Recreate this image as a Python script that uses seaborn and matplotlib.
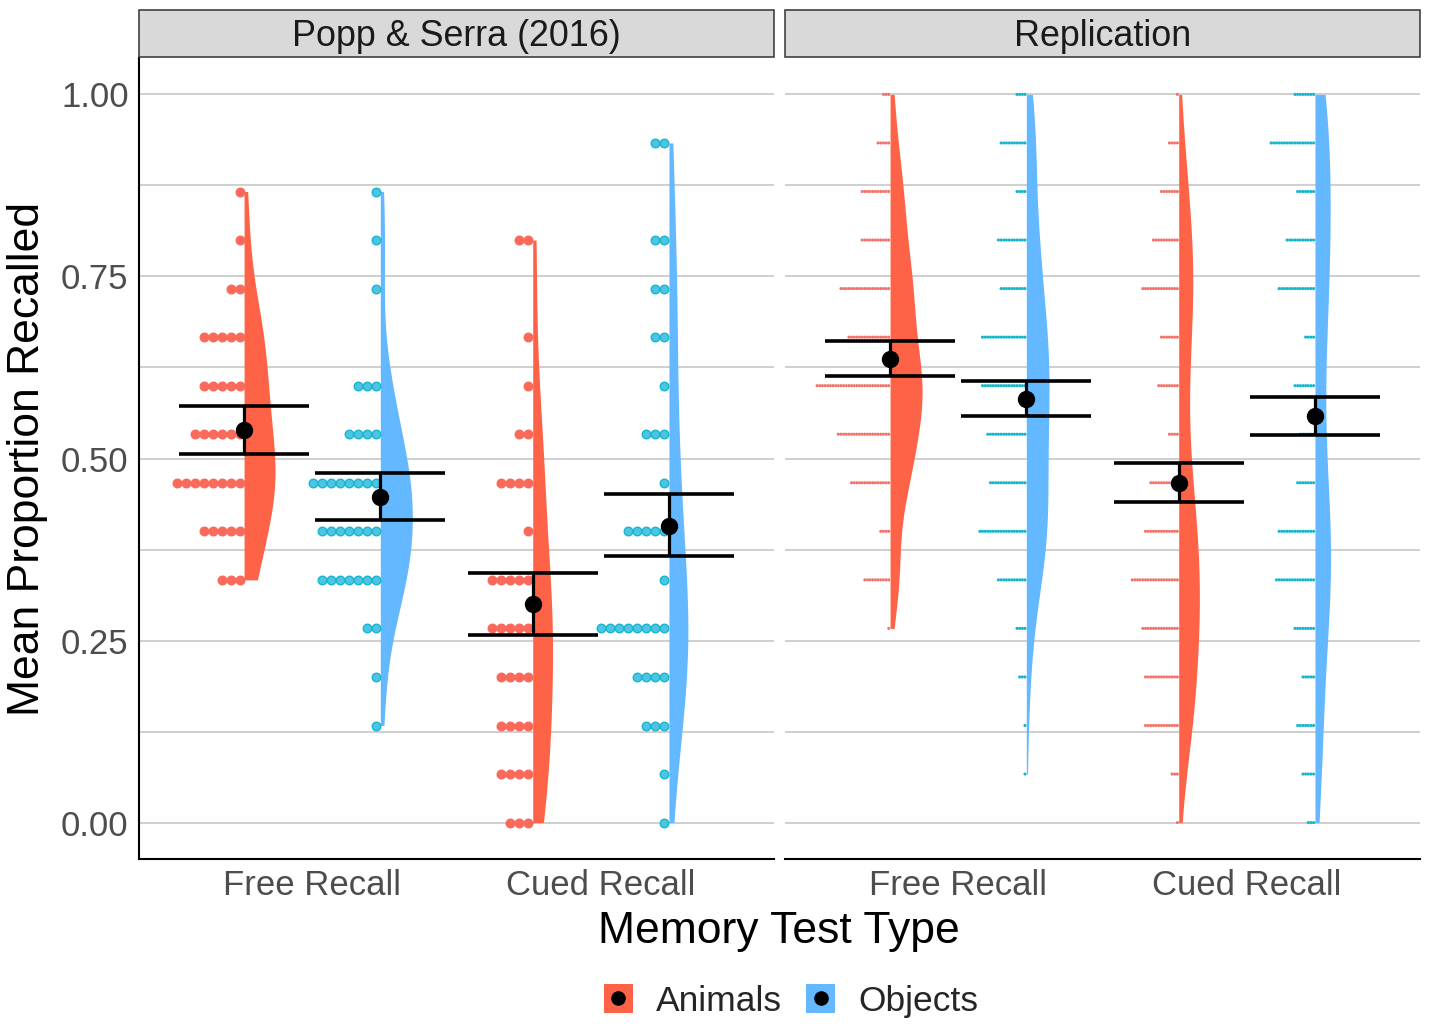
import numpy as np
import pandas as pd
import matplotlib
matplotlib.use("Agg")
import matplotlib.pyplot as plt
import seaborn as sns
from matplotlib.patches import Patch, Rectangle
from matplotlib.lines import Line2D

# ---------------- data ----------------
panels = ["Popp & Serra (2016)", "Replication"]
tests = ["Free Recall", "Cued Recall"]
stimuli = ["Animals", "Objects"]
levels = [k / 15 for k in range(16)]          # proportion of 15 items recalled

# number of participants at each level k/15 (k = 0..15)
popp_free_animals = [0, 0, 0, 0, 0, 3, 5, 8, 6, 5, 5, 2, 1, 1, 0, 0]
popp_free_objects = [0, 0, 1, 1, 2, 7, 7, 8, 4, 3, 0, 1, 1, 1, 0, 0]
popp_cued_animals = [3, 4, 4, 4, 5, 5, 1, 4, 2, 1, 1, 0, 2, 0, 0, 0]
popp_cued_objects = [1, 1, 3, 4, 8, 1, 5, 1, 3, 1, 2, 2, 2, 0, 2, 0]
rep_free_animals = [0, 0, 0, 0, 1, 10, 4, 15, 20, 28, 16, 19, 11, 11, 5, 3]
rep_free_objects = [0, 1, 1, 3, 4, 11, 18, 14, 15, 17, 17, 10, 11, 4, 10, 4]
rep_cued_animals = [1, 3, 13, 13, 14, 18, 13, 11, 4, 8, 7, 14, 10, 7, 4, 1]
rep_cued_objects = [3, 5, 7, 5, 8, 15, 14, 7, 6, 8, 4, 14, 11, 7, 17, 8]

# summary statistics (mean and interval) in order:
# Free-Animals, Free-Objects, Cued-Animals, Cued-Objects
popp_means = [0.539, 0.447, 0.300, 0.407]
popp_low = [0.506, 0.415, 0.258, 0.366]
popp_high = [0.572, 0.480, 0.343, 0.451]
rep_means = [0.637, 0.582, 0.466, 0.558]
rep_low = [0.613, 0.558, 0.440, 0.532]
rep_high = [0.661, 0.606, 0.494, 0.584]

counts = {
    panels[0]: {("Free Recall", "Animals"): popp_free_animals,
                ("Free Recall", "Objects"): popp_free_objects,
                ("Cued Recall", "Animals"): popp_cued_animals,
                ("Cued Recall", "Objects"): popp_cued_objects},
    panels[1]: {("Free Recall", "Animals"): rep_free_animals,
                ("Free Recall", "Objects"): rep_free_objects,
                ("Cued Recall", "Animals"): rep_cued_animals,
                ("Cued Recall", "Objects"): rep_cued_objects},
}
summary = {panels[0]: (popp_means, popp_low, popp_high),
           panels[1]: (rep_means, rep_low, rep_high)}

# ---------------- style ----------------
violin_colors = {"Animals": "#FF6347", "Objects": "#63B8FF"}
dot_face = {"Animals": "#F96A5A", "Objects": "#4CC4E2"}
dot_edge = {"Animals": "#F96A5A", "Objects": "#19B6D2"}
small_dot = {"Animals": "#F2736A", "Objects": "#14B6CC"}
offset = {"Animals": -0.236, "Objects": 0.236}
dot_step = {panels[0]: 0.0312, panels[1]: 0.0092}
dot_size = {panels[0]: 38, panels[1]: 5.0}
dot_lw = {panels[0]: 1.0, panels[1]: 0.0}

sns.set_style("white")
plt.rcParams["font.family"] = ["Liberation Sans", "DejaVu Sans"]

rows = []
for p in panels:
    for ti, t in enumerate(tests):
        for s in stimuli:
            for lv, n in zip(levels, counts[p][(t, s)]):
                for _ in range(n):
                    rows.append({"panel": p, "test": t, "stim": s,
                                 "pos": ti + offset[s], "value": lv})
df = pd.DataFrame(rows)

W, H = 1430, 1029
fig = plt.figure(figsize=(W / 100, H / 100), dpi=100)
axes = [fig.add_axes([139 / W, 170 / H, 635 / W, 801 / H]),
        fig.add_axes([785 / W, 170 / H, 635 / W, 801 / H])]

for pi, (ax, p) in enumerate(zip(axes, panels)):
    sub = df[df["panel"] == p]
    ax.set_axisbelow(True)
    before = list(ax.collections)
    sns.violinplot(data=sub, x="pos", y="value", hue="stim", hue_order=stimuli,
                   palette=violin_colors, native_scale=True, dodge=False,
                   inner=None, cut=0, density_norm="area", common_norm=True,
                   bw_adjust=0.9, width=0.47, linewidth=0, saturation=1,
                   legend=False, ax=ax)
    # keep only the right half of each violin (flat violins)
    for coll in [c for c in ax.collections if c not in before]:
        paths = coll.get_paths()
        if not paths:
            continue
        verts = [pth.vertices.copy() for pth in paths]
        allx = np.concatenate([v[:, 0] for v in verts])
        cx = (allx.min() + allx.max()) / 2
        for v in verts:
            v[:, 0] = np.maximum(v[:, 0], cx)
        coll.set_verts(verts)
        coll.set_zorder(2)

    # dot plots stacked to the left of each violin
    for ti, t in enumerate(tests):
        for s in stimuli:
            xs, ys = [], []
            for lv, n in zip(levels, counts[p][(t, s)]):
                for j in range(n):
                    xs.append(ti + offset[s] - dot_step[p] * (j + 0.5))
                    ys.append(lv)
            if pi == 0:
                ax.scatter(xs, ys, s=dot_size[p], c=dot_face[s],
                           edgecolors=dot_edge[s], linewidths=dot_lw[p], zorder=3)
            else:
                ax.scatter(xs, ys, s=dot_size[p], c=small_dot[s],
                           edgecolors="none", zorder=3)

    # means with intervals
    m, lo, hi = summary[p]
    k = 0
    for ti, t in enumerate(tests):
        for s in stimuli:
            ax.errorbar([ti + offset[s]], [m[k]], yerr=[[m[k] - lo[k]], [hi[k] - m[k]]],
                        fmt="o", color="black", ms=11.5, elinewidth=2.3,
                        capsize=46.8, capthick=2.6, zorder=6)
            k += 1

    ax.set_xlim(-0.6, 1.6)
    ax.set_ylim(-0.05, 1.05)
    ax.set_xticks([0, 1])
    ax.set_xticklabels(tests)
    ax.set_yticks([0, 0.25, 0.5, 0.75, 1.0])
    ax.set_yticks([0.125, 0.375, 0.625, 0.875], minor=True)
    ax.set_yticklabels(["0.00", "0.25", "0.50", "0.75", "1.00"])
    ax.grid(True, axis="y", which="both", color="#CFCFCF", lw=1.4)
    ax.grid(False, axis="x")
    ax.set_xlabel("")
    ax.set_ylabel("")
    ax.tick_params(axis="both", which="major", direction="out", length=4.5,
                   width=1.1, color="#333333", labelcolor="#4D4D4D",
                   labelsize=25, pad=3)
    ax.tick_params(axis="y", which="minor", length=0)
    for side in ["top", "right"]:
        ax.spines[side].set_visible(False)
    ax.spines["bottom"].set_linewidth(1.5)
    ax.spines["bottom"].set_color("black")
    ax.spines["left"].set_linewidth(1.5)
    ax.spines["left"].set_color("black")
    if pi == 1:
        ax.spines["left"].set_visible(False)
        ax.tick_params(axis="y", which="major", length=0, labelleft=False)

    # facet strip
    ax.add_patch(Rectangle((0, 1.0008), 1, 0.0592, transform=ax.transAxes,
                           facecolor="#D9D9D9", edgecolor="#333333", lw=1.1,
                           clip_on=False, zorder=10))
    ax.text(0.5, 1.0268, p, transform=ax.transAxes, ha="center", va="center",
            fontsize=25.8, color="#1A1A1A", zorder=11)

fig.text(779 / W, 1 - 932 / H, "Memory Test Type", ha="center", va="center",
         fontsize=32, color="black")
fig.text(28 / W, 1 - 459 / H, "Mean Proportion Recalled", ha="center",
         va="center", rotation=90, fontsize=32, color="black")

handles = [(Patch(facecolor=violin_colors[s], edgecolor="none"),
            Line2D([], [], marker="o", ls="", color="black", ms=9.5))
           for s in stimuli]
fig.legend(handles=handles, labels=stimuli, loc="center",
           bbox_to_anchor=(791 / W, 1 - 1001 / H), ncol=2, frameon=False,
           fontsize=25.5, handlelength=0.82, handleheight=0.87,
           handletextpad=0.65, columnspacing=0.68)

fig.savefig("out.png", dpi=100, facecolor="white")
